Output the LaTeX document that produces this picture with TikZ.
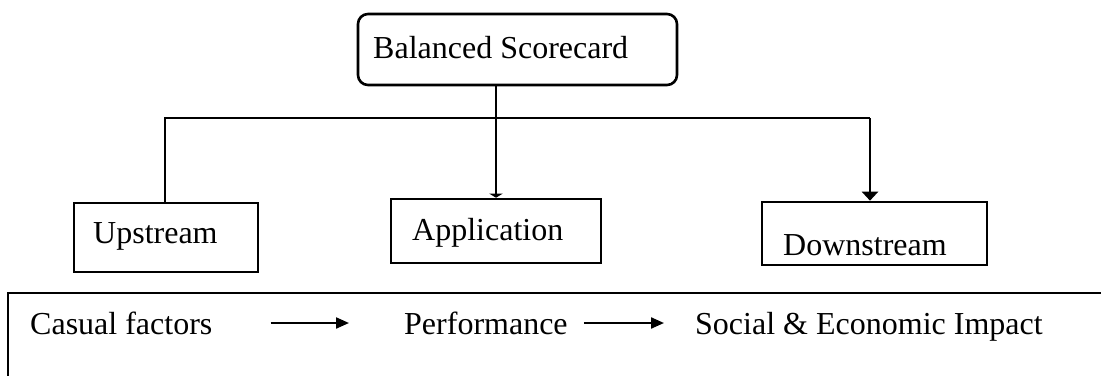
\documentclass[tikz,border=0pt]{standalone}
\usepackage{fontspec}
\setmainfont{Liberation Serif}
\usetikzlibrary{arrows.meta}

\tikzset{
  boxshape/.style={draw, line width=2.6pt, inner sep=0pt, rectangle},
  label text/.style={inner sep=0pt, anchor=base west, font=\fontsize{32}{38}\selectfont},
  link/.style={line width=2.6pt},
  flow/.style={line width=2.2pt, -{Triangle[length=13pt,width=11pt]}},
}

\begin{document}
\begin{tikzpicture}[x=1pt, y=-1pt]
  \useasboundingbox (0,0) rectangle (1101,376);

  % top box
  \node[boxshape, rounded corners=10pt, minimum width=319pt, minimum height=71pt]
    (bsc) at (517.5,49.5) {};
  \node[label text] (bsct) at (373,58) {Balanced Scorecard};

  % three sub boxes
  \node[boxshape, minimum width=184pt, minimum height=69pt] (up)   at (166,237.5) {};
  \node[boxshape, minimum width=210pt, minimum height=64pt] (app)  at (496,231) {};
  \node[boxshape, minimum width=225pt, minimum height=63pt] (down) at (874.5,233.5) {};
  \node[label text] (upt)   at (93,243)  {Upstream};
  \node[label text] (appt)  at (412,240) {Application};
  \node[label text] (downt) at (783,255) {Downstream};

  % branching connectors
  \coordinate (jl) at (165,118);
  \coordinate (jr) at (870,118);
  \draw[link] (jl |- up.north) -- (jl) -- (jr);
  \draw[link, -{Triangle[length=4pt,width=13pt]}] (app.north |- bsc.south) -- (app.north);
  \draw[link, -{Triangle[length=9pt,width=16pt]}] (jr) -- (jr |- down.north);

  % bottom frame
  \coordinate (fr) at (1101,293);
  \coordinate (fc) at (8,293);
  \coordinate (fb) at (8,376);
  \draw[line width=2.6pt] (fr) -- (fc) -- (fb);

  % causal chain
  \node[label text] (cf)   at (30,334)  {Casual factors};
  \node[label text] (perf) at (404,334) {Performance};
  \node[label text] (sei)  at (695,334) {Social \& Economic Impact};
  \draw[flow] ([xshift=58pt,yshift=11pt]cf.base east) -- ([xshift=-55pt,yshift=11pt]perf.base west);
  \draw[flow] ([xshift=16pt,yshift=11pt]perf.base east) -- ([xshift=-31pt,yshift=11pt]sei.base west);
\end{tikzpicture}
\end{document}
